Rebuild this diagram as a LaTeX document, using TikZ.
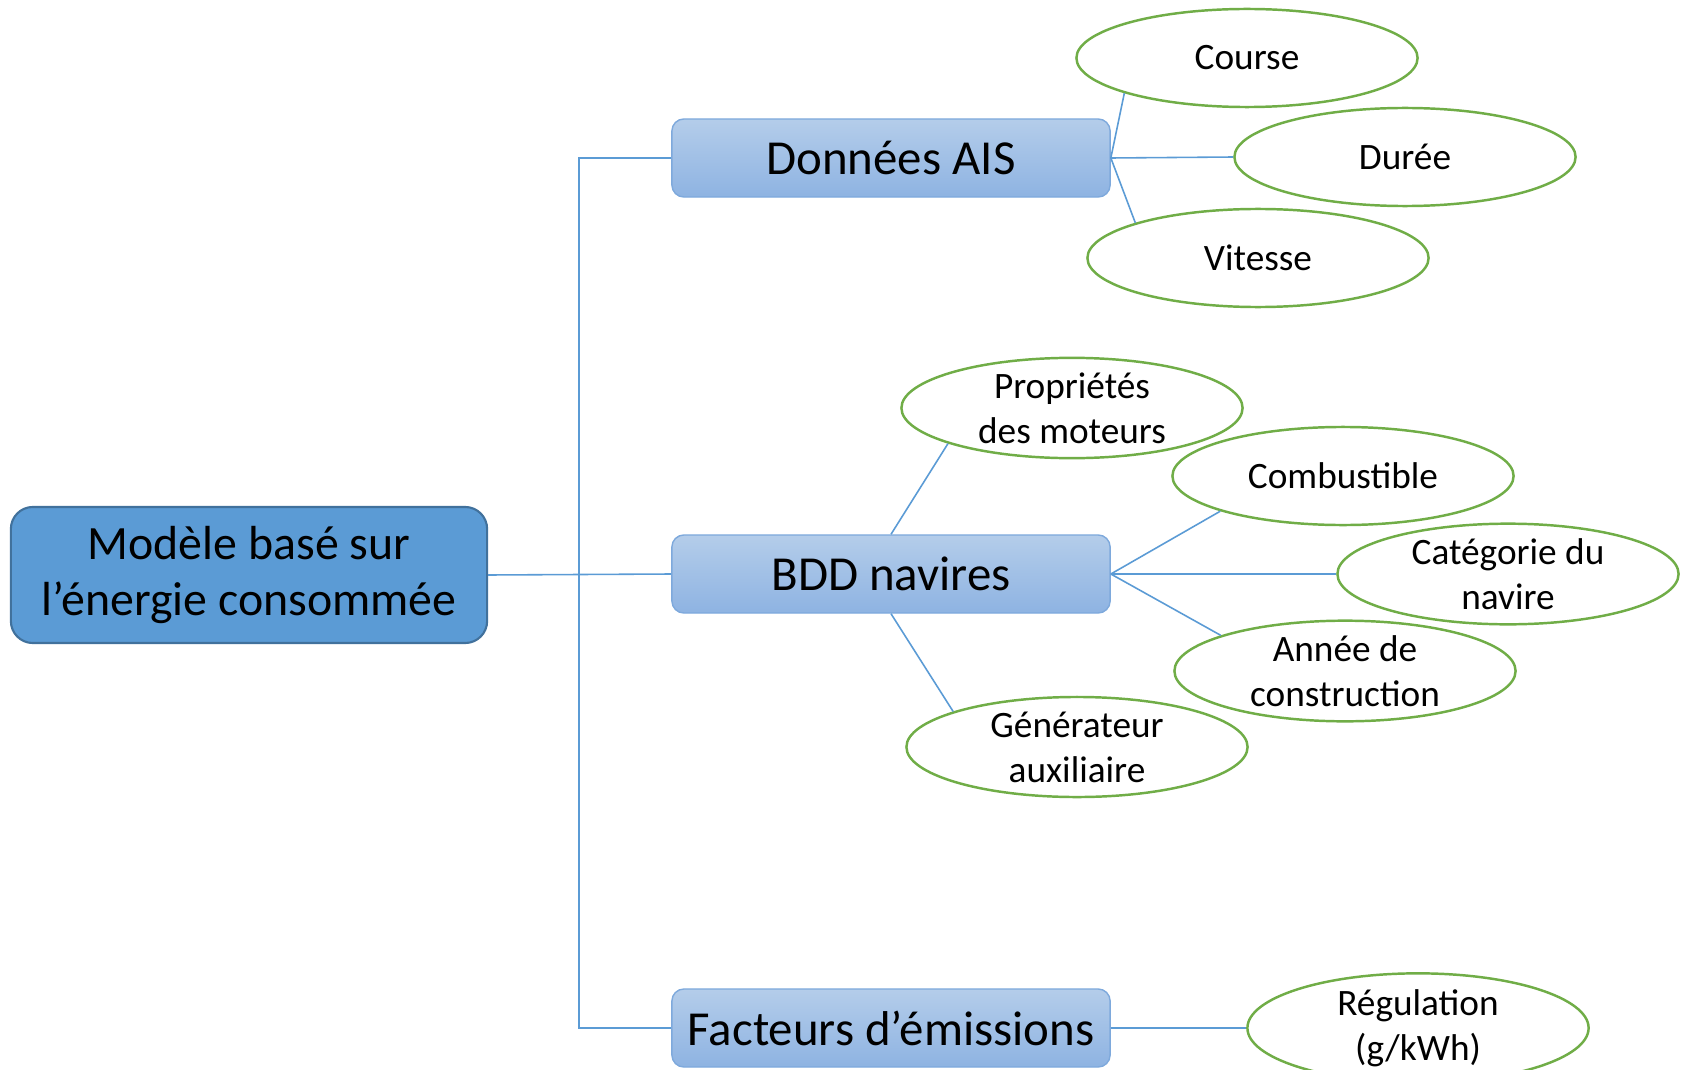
\documentclass[tikz,border=0pt]{standalone}
\usepackage{fontspec}
\setmainfont{Carlito}
\usetikzlibrary{shapes.geometric}
\definecolor{rootfill}{HTML}{5B9BD5}
\definecolor{rootline}{HTML}{41719C}
\definecolor{grouptop}{HTML}{B4CDEA}
\definecolor{groupbot}{HTML}{8EB3E2}
\definecolor{groupline}{HTML}{7EA9DC}
\definecolor{leafline}{HTML}{70AD47}
\definecolor{linkblue}{HTML}{5B9BD5}

\begin{document}
\begin{tikzpicture}[x=0.01cm,y=-0.01cm,
  Root/.style={draw=rootline, line width=0.6pt, fill=rootfill, rounded corners=0.22cm, minimum width=4.76cm, minimum height=1.36cm, align=center, font=\fontsize{13.6}{16.2}\selectfont},
  Group/.style={draw=groupline, line width=0.4pt, top color=grouptop, bottom color=groupbot, rounded corners=0.12cm, minimum width=4.38cm, minimum height=0.78cm, font=\fontsize{13.9}{16}\selectfont},
  Leaf/.style={ellipse, draw=leafline, line width=0.7pt, fill=white, minimum width=3.41cm, minimum height=0.98cm, inner sep=0pt, align=center, font=\fontsize{10.6}{12.8}\selectfont},
  Link/.style={draw=linkblue, line width=0.45pt}]

\useasboundingbox (0,0) rectangle (1685,1070);

\node[Root] (model) at (249,575) {Modèle basé sur\\l’énergie consommée};

\node[Group] (ais) at (891,158) {Données AIS};
\node[Group] (bdd) at (891,574) {BDD navires};
\node[Group] (fact) at (891,1028) {Facteurs d’émissions};

\node[Leaf] (course) at (1247,58) {Course};
\node[Leaf] (duree) at (1405,157) {Durée};
\node[Leaf] (vitesse) at (1258,258) {Vitesse};

\node[Leaf] (moteurs) at (1072,408) {Propriétés\\des moteurs};
\node[Leaf] (combust) at (1343,476) {Combustible};
\node[Leaf] (categ) at (1508,574) {Catégorie du\\navire};
\node[Leaf] (annee) at (1345,671) {Année de\\construction};
\node[Leaf] (gener) at (1077,747) {Générateur\\auxiliaire};

\node[Leaf] (regul) at (1418,1028) {Régulation\\(g/kWh)};

\coordinate (trunk) at (579,575);
\draw[Link] (model.east) -- (bdd.west);
\draw[Link] (ais.west) -| (trunk) |- (fact.west);

\draw[Link] (ais.east) -- (course.196);
\draw[Link] (ais.east) -- (duree.west);
\draw[Link] (ais.east) -- (vitesse.164);

\draw[Link] (bdd.north) -- (moteurs.196);
\draw[Link] (bdd.east) -- (combust.196);
\draw[Link] (bdd.east) -- (categ.west);
\draw[Link] (bdd.east) -- (annee.164);
\draw[Link] (bdd.south) -- (gener.164);

\draw[Link] (fact.east) -- (regul.west);

\end{tikzpicture}
\end{document}
